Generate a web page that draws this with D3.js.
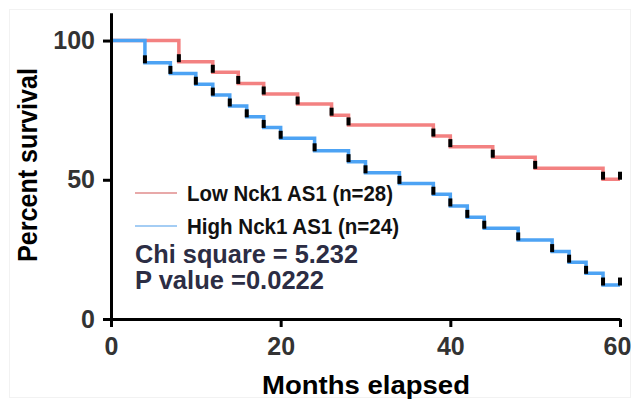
<!DOCTYPE html>
<html>
<head>
<meta charset="utf-8">
<script src="https://cdn.jsdelivr.net/npm/d3@7"></script>
<style>
  html, body { margin: 0; padding: 0; background: #fff; }
  text { font-family: "Liberation Sans", Arial, sans-serif; font-weight: bold; }
</style>
</head>
<body>
<div id="chart"></div>
<script>
// ── Data ──────────────────────────────────────────────────────────────────

var lowMonths   = [0, 8, 12, 15, 18, 22, 26, 28, 38, 40, 45, 50, 58, 60];
var lowSurvival = [100, 92.4, 88.6, 84.6, 80.8, 77.2, 73.2, 69.7, 65.7, 61.9, 58.1, 54.1, 50.2, 50.2];

var highMonths   = [0, 4, 7, 10, 12, 14, 16, 18, 20, 24, 28, 30, 34, 38, 40, 42, 44, 48, 52, 54, 56, 58, 60];
var highSurvival = [100, 92.0, 88.2, 84.3, 80.4, 76.5, 72.6, 68.8, 64.9, 60.4, 56.5, 52.5, 48.7, 44.8, 40.6, 36.5, 32.6, 28.4, 24.2, 20.4, 16.4, 12.2, 12.2];

var xTicks = [0, 20, 40, 60];
var yTicks = [0, 50, 100];

var seriesNames = ['Low Nck1 AS1 (n=28)', 'High Nck1 AS1 (n=24)'];
var statsLines  = ['Chi square = 5.232', 'P value =0.0222'];

// ── Layout ────────────────────────────────────────────────────────────────

var width = 633, height = 400;
var RED  = '#f38181';
var BLUE = '#4da3f4';

function toPoints(months, surv) {
  return months.map(function(m, i) { return { t: m, s: surv[i] }; });
}

var series = [
  { name: seriesNames[0], color: RED,  legendColor: '#e08c8c', textLen: 206, pts: toPoints(lowMonths, lowSurvival) },
  { name: seriesNames[1], color: BLUE, legendColor: '#86bdf0', textLen: 212, pts: toPoints(highMonths, highSurvival) }
];

var svg = d3.select('#chart').append('svg')
  .attr('width', width)
  .attr('height', height);

// faint frame seen around the reference picture
svg.append('rect')
  .attr('x', 9.5).attr('y', 9.5)
  .attr('width', width - 12).attr('height', height - 12)
  .attr('fill', 'none')
  .attr('stroke', '#f2f2f2');

var x = d3.scaleLinear().domain([0, 60]).range([111, 620]);
var y = d3.scaleLinear().domain([0, 110]).range([319, 12.7]);

// ── Survival curves ───────────────────────────────────────────────────────

var line = d3.line()
  .x(function(d) { return x(d.t); })
  .y(function(d) { return y(d.s); })
  .curve(d3.curveStepAfter);

svg.append('g')
  .selectAll('path')
  .data(series)
  .join('path')
  .attr('d', function(d) { return line(d.pts); })
  .attr('fill', 'none')
  .attr('stroke', function(d) { return d.color; })
  .attr('stroke-width', 3.5);

// black tick marks at every step and at the end of each curve
var marks = [];
series.forEach(function(sr) {
  sr.pts.slice(1).forEach(function(p) { marks.push(p); });
});

svg.append('g')
  .selectAll('rect')
  .data(marks)
  .join('rect')
  .attr('x', function(d) { return x(d.t) - 2; })
  .attr('y', function(d) { return y(d.s) - 7.5; })
  .attr('width', 4)
  .attr('height', 8)
  .attr('fill', '#000');

// ── Axes ──────────────────────────────────────────────────────────────────

var xAxis = svg.append('g')
  .attr('transform', 'translate(0,319)')
  .call(d3.axisBottom(x).tickValues(xTicks).tickSize(8).tickSizeOuter(0).tickPadding(10));

var yAxis = svg.append('g')
  .attr('transform', 'translate(111,0)')
  .call(d3.axisLeft(y).tickValues(yTicks).tickSize(8).tickSizeOuter(0).tickPadding(8));

[xAxis, yAxis].forEach(function(ax) {
  ax.select('.domain').attr('stroke', '#000').attr('stroke-width', 3);
  ax.selectAll('.tick line').attr('stroke', '#000').attr('stroke-width', 3);
  ax.selectAll('.tick text')
    .attr('fill', '#333')
    .attr('font-size', 25)
    .attr('font-family', '"Liberation Sans", Arial, sans-serif')
    .attr('font-weight', 'bold');
});

// keep the last x label inside the picture
xAxis.selectAll('.tick text')
  .filter(function(d) { return d === 60; })
  .attr('dx', -3);

svg.append('text')
  .attr('x', 366)
  .attr('y', 394)
  .attr('text-anchor', 'middle')
  .attr('font-size', 26)
  .attr('textLength', 208)
  .attr('lengthAdjust', 'spacingAndGlyphs')
  .attr('fill', '#000')
  .text('Months elapsed');

svg.append('text')
  .attr('transform', 'translate(37,165) rotate(-90)')
  .attr('text-anchor', 'middle')
  .attr('font-size', 28)
  .attr('textLength', 194)
  .attr('lengthAdjust', 'spacingAndGlyphs')
  .attr('fill', '#000')
  .text('Percent survival');

// ── Legend and statistics ─────────────────────────────────────────────────

var legend = svg.append('g')
  .selectAll('g')
  .data(series)
  .join('g')
  .attr('transform', function(d, i) { return 'translate(135,' + (193 + i * 33) + ')'; });

legend.append('line')
  .attr('x1', 0).attr('x2', 42)
  .attr('stroke', function(d) { return d.legendColor; })
  .attr('stroke-width', 1.5);

legend.append('text')
  .attr('x', 52)
  .attr('y', 7.5)
  .attr('font-size', 21.5)
  .attr('textLength', function(d) { return d.textLen; })
  .attr('lengthAdjust', 'spacingAndGlyphs')
  .attr('fill', '#111')
  .text(function(d) { return d.name; });

var statsLen = [223, 189];

svg.append('g')
  .selectAll('text')
  .data(statsLines)
  .join('text')
  .attr('x', 135)
  .attr('y', function(d, i) { return 263 + i * 26; })
  .attr('font-size', 25)
  .attr('textLength', function(d, i) { return statsLen[i]; })
  .attr('lengthAdjust', 'spacingAndGlyphs')
  .attr('fill', '#2c2d44')
  .text(function(d) { return d; });
</script>
</body>
</html>
